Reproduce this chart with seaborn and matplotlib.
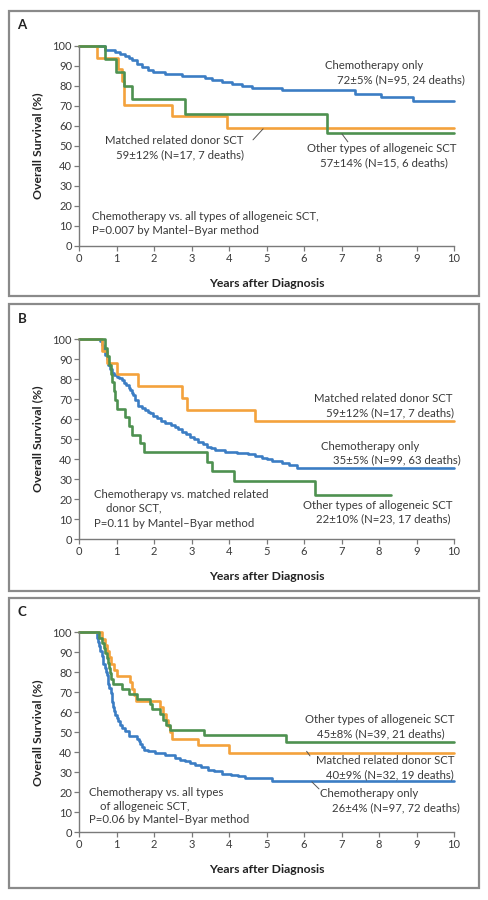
import pandas as pd
import numpy as np
import matplotlib
matplotlib.use("Agg")
import matplotlib.pyplot as plt
from matplotlib.patches import Rectangle
import seaborn as sns

sns.set_style("ticks")
plt.rcParams['font.family'] = ['Lato', 'DejaVu Sans']

BLUE = "#3b7dc4"
ORANGE = "#f4a23c"
GREEN = "#4e9150"
TXT = "#3a3a3a"
AXC = "#7a7a7a"

# ---- panel A ----
a_chemo_t = [0, 0.68, 0.96, 1.1, 1.23, 1.32, 1.4, 1.54, 1.67, 1.85, 1.98, 2.29, 2.74, 3.36, 3.54, 3.8, 4.07, 4.34, 4.6, 5.4, 7.36, 8.05, 8.9, 10]
a_chemo_s = [100, 98, 97, 96, 95, 94, 93, 91, 89.5, 88, 87, 86, 85, 84, 83, 82, 81, 80, 79, 77.7, 76, 74.3, 72.2, 72.2]
a_mrd_t = [0, 0.47, 1.05, 1.15, 1.19, 2.47, 3.94, 10]
a_mrd_s = [100, 94.1, 88.2, 82.4, 70.6, 64.7, 58.8, 58.8]
a_oth_t = [0, 0.68, 0.98, 1.2, 1.4, 2.83, 6.61, 10]
a_oth_s = [100, 93.3, 86.7, 80, 73.3, 66.0, 56.6, 56.6]

# ---- panel B ----
b_chemo_t = [0, 0.56, 0.6, 0.65, 0.69, 0.74, 0.78, 0.83, 0.87, 0.93, 1.0, 1.07, 1.14, 1.2, 1.26, 1.32, 1.36, 1.4, 1.45, 1.49,
             1.58, 1.68, 1.76, 1.83, 1.89, 1.98, 2.07, 2.18, 2.29, 2.45, 2.56, 2.65, 2.74, 2.85, 2.96, 3.07, 3.18, 3.3, 3.4,
             3.52, 3.63, 3.89, 4.2, 4.51, 4.7, 4.87, 5.0, 5.14, 5.4, 5.6, 5.82, 10]
b_chemo_s = [100, 99, 97, 95, 92, 90, 87, 85, 82.8, 82, 81.2, 80.5, 79.5, 78, 77, 75.5, 74.5, 73, 72, 69.7,
             66.5, 65.5, 64.5, 63.5, 62.8, 61.5, 60.3, 59, 57.8, 57, 56.2, 55, 53.7, 52.5, 51.2, 50, 48.7, 47.5, 46.2,
             45.3, 44.5, 43.3, 42.8, 42.3, 41.5, 40.7, 39.8, 39, 38, 37, 35.4, 35.4]
b_mrd_t = [0, 0.6, 0.74, 1.0, 1.56, 2.74, 2.87, 4.69, 10]
b_mrd_s = [100, 94.1, 88.2, 82.4, 76.5, 70.6, 64.7, 58.8, 58.8]
b_oth_t = [0, 0.68, 0.74, 0.8, 0.85, 0.88, 0.92, 0.96, 1.0, 1.23, 1.32, 1.4, 1.63, 1.72, 3.4, 3.54, 4.12, 6.29, 8.32]
b_oth_s = [100, 95.7, 91.3, 87.0, 82.6, 78.3, 73.9, 69.6, 65.2, 60.9, 56.5, 52.2, 47.8, 43.5, 38.7, 33.8, 29.0, 21.8, 21.8]

# ---- panel C ----
c_chemo_t = [0, 0.47, 0.5, 0.53, 0.56, 0.6, 0.63, 0.65, 0.68, 0.71, 0.74, 0.76, 0.78, 0.81, 0.84, 0.87, 0.89, 0.91, 0.94,
             0.97, 1.0, 1.04, 1.09, 1.15, 1.23, 1.32, 1.54, 1.59, 1.63, 1.68, 1.72, 1.85, 2.03, 2.3, 2.56, 2.7, 2.83, 2.95,
             3.09, 3.25, 3.45, 3.6, 3.8, 4.05, 4.25, 4.43, 5.14, 10]
c_chemo_s = [100, 97, 95, 93, 90.5, 88, 86, 84, 82, 80, 78.8, 76.5, 74, 72, 69.5, 67.2, 65, 62.5, 60.5,
             58.5, 57.2, 55.5, 53.8, 52, 50.5, 48, 46.5, 45.5, 44, 42.5, 41.3, 40.5, 39.6, 38.5, 37.2, 36.3, 35.5, 34.7,
             33.8, 32.5, 31.3, 30.5, 29.3, 28.5, 28, 27.2, 25.8, 25.8]
c_mrd_t = [0, 0.62, 0.68, 0.74, 0.8, 0.86, 0.92, 1.0, 1.36, 1.42, 1.47, 1.52, 2.16, 2.25, 2.33, 2.38, 2.43, 2.48, 3.18, 3.99, 10]
c_mrd_s = [100, 96.9, 93.8, 90.6, 87.5, 84.4, 81.3, 78.1, 75, 71.9, 68.8, 65.6, 62.5, 59.4, 56.3, 53.1, 50, 46.9, 43.8, 39.9, 39.9]
c_oth_t = [0, 0.52, 0.6, 0.66, 0.7, 0.75, 0.78, 0.8, 0.83, 0.86, 0.9, 1.15, 1.32, 1.54, 1.89, 1.95, 2.15, 2.25, 2.33, 2.43, 3.32, 5.52, 10]
c_oth_s = [100, 97.4, 94.9, 92.3, 89.7, 87.2, 84.6, 82.1, 79.5, 76.9, 74.4, 71.8, 69.2, 66.7, 64.1, 61.5, 59.0, 56.4, 53.8, 51.3, 48.7, 45.3, 45.3]

groups = ["Chemotherapy only", "Matched related donor SCT", "Other types of allogeneic SCT"]
palette = {groups[0]: BLUE, groups[1]: ORANGE, groups[2]: GREEN}

panels = {
    "A": [(a_chemo_t, a_chemo_s), (a_mrd_t, a_mrd_s), (a_oth_t, a_oth_s)],
    "B": [(b_chemo_t, b_chemo_s), (b_mrd_t, b_mrd_s), (b_oth_t, b_oth_s)],
    "C": [(c_chemo_t, c_chemo_s), (c_mrd_t, c_mrd_s), (c_oth_t, c_oth_s)],
}

# annotations: (text, x in years, y in %)
notes = {
    "A": [("Chemotherapy only", 6.56, 90), ("72±5% (N=95, 24 deaths)", 6.88, 83),
          ("Matched related donor SCT", 0.69, 52.5), ("59±12% (N=17, 7 deaths)", 1.0, 45.5),
          ("Other types of allogeneic SCT", 6.09, 48.5), ("57±14% (N=15, 6 deaths)", 6.43, 41.5),
          ("Chemotherapy vs. all types of allogeneic SCT,", 0.34, 14.5),
          ("P=0.007 by Mantel–Byar method", 0.34, 7.5)],
    "B": [("Matched related donor SCT", 6.28, 70.3), ("59±12% (N=17, 7 deaths)", 6.59, 63.3),
          ("Chemotherapy only", 6.45, 46.2), ("35±5% (N=99, 63 deaths)", 6.78, 39.5),
          ("Other types of allogeneic SCT", 5.98, 16.7), ("22±10% (N=23, 17 deaths)", 6.32, 10),
          ("Chemotherapy vs. matched related", 0.41, 22), ("donor SCT,", 0.72, 15.3),
          ("P=0.11 by Mantel–Byar method", 0.41, 7.8)],
    "C": [("Other types of allogeneic SCT", 6.03, 56.2), ("45±8% (N=39, 21 deaths)", 6.34, 49.2),
          ("Matched related donor SCT", 6.31, 35.8), ("40±9% (N=32, 19 deaths)", 6.6, 29),
          ("Chemotherapy only", 6.44, 19.5), ("26±4% (N=97, 72 deaths)", 6.76, 12.5),
          ("Chemotherapy vs. all types", 0.27, 20), ("of allogeneic SCT,", 0.57, 12.8),
          ("P=0.06 by Mantel–Byar method", 0.27, 6.2)],
}
leaders = {
    "A": [((4.64, 4.91), (53, 58.5)), ((7.17, 7.01), (52, 56))],
    "B": [],
    "C": [((6.16, 6.07), (38.2, 40.5)), ((6.4, 6.21), (21.7, 25.2))],
}

fig = plt.figure(figsize=(4.88, 9.0), dpi=100)
H = 900.0
W = 488.0
# (box top, box bottom, axes top, axes bottom, letter y) in pixels
layout = {"A": (11, 296, 45.7, 246, 25),
          "B": (304, 591, 339, 539, 319),
          "C": (598, 888, 632.3, 832.3, 612)}

for key, (bt, bb, at, ab, ly) in layout.items():
    fig.patches.append(Rectangle((9 / W, 1 - bb / H), 470 / W, (bb - bt) / H, transform=fig.transFigure,
                                 fill=False, edgecolor="#8a8a8a", lw=1.6))
    fig.text(22 / W, 1 - ly / H, key, ha="center", va="center", fontsize=9.5, fontweight="bold", color="#222")

    ax = fig.add_axes([79 / W, 1 - ab / H, 375 / W, (ab - at) / H])
    rows = []
    for g, (t, s) in zip(groups, panels[key]):
        rows.append(pd.DataFrame({"t": t, "s": s, "grp": g}))
    df = pd.concat(rows, ignore_index=True)
    sns.lineplot(data=df, x="t", y="s", hue="grp", palette=palette, estimator=None, sort=False,
                 drawstyle="steps-post", lw=1.9, legend=False, ax=ax, clip_on=False)

    for txt, x, y in notes[key]:
        ax.text(x, y, txt, ha="left", va="center", fontsize=8.2, color=TXT, clip_on=False)
    for xs, ys in leaders[key]:
        ax.plot(xs, ys, color="#555", lw=0.7)

    ax.set_xlim(0, 10)
    ax.set_ylim(0, 100)
    ax.set_xticks(range(0, 11))
    ax.set_yticks(range(0, 101, 10))
    ax.set_xlabel("Years after Diagnosis", fontsize=8.8, fontweight="bold", color="#222", labelpad=10)
    ax.set_ylabel("Overall Survival (%)", fontsize=8.8, fontweight="bold", color="#222", labelpad=7)
    sns.despine(ax=ax)
    for sp in ["left", "bottom"]:
        ax.spines[sp].set_color(AXC)
        ax.spines[sp].set_linewidth(1.0)
    ax.tick_params(direction="out", length=3.5, width=0.9, color=AXC, labelcolor=TXT, labelsize=8, pad=1.5)
    ax.set_facecolor("white")

fig.savefig("out.png", dpi=100)
